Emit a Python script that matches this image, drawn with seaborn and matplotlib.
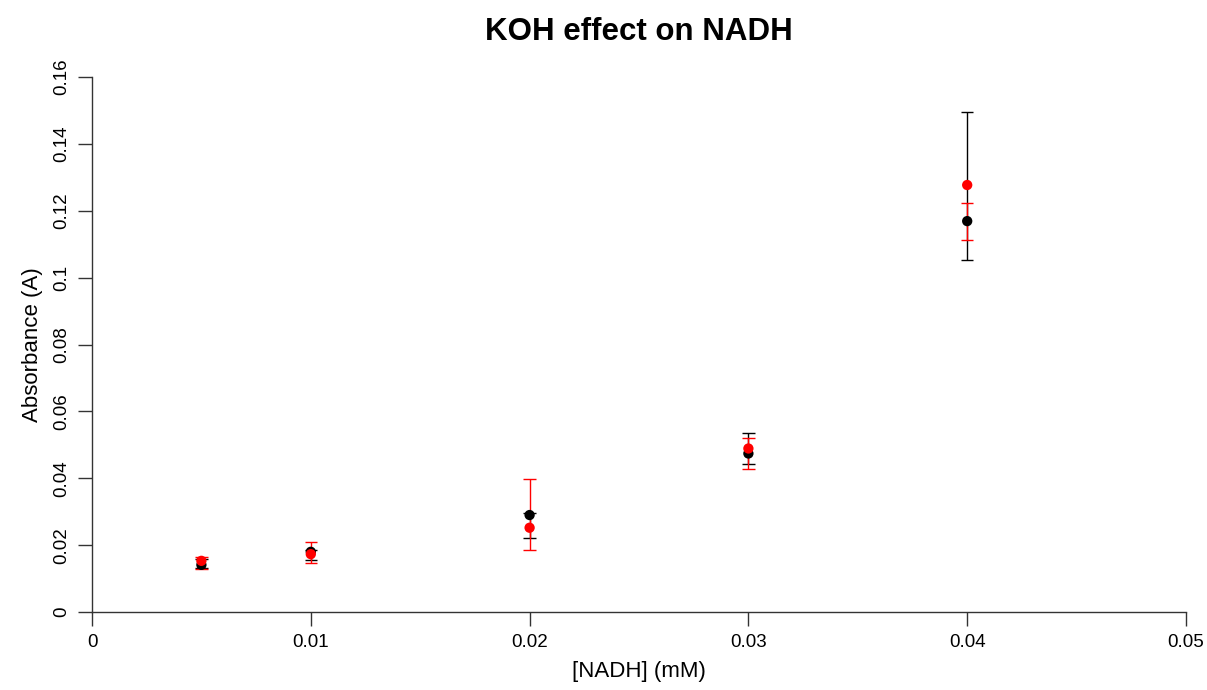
import matplotlib
matplotlib.use("Agg")
import matplotlib.pyplot as plt
import seaborn as sns
import pandas as pd
import numpy as np

# Data
conc = [0.005, 0.01, 0.02, 0.03, 0.04]
black_mean = [0.0141, 0.0180, 0.0290, 0.0474, 0.1169]
black_low = [0.0133, 0.0156, 0.0222, 0.0442, 0.1053]
black_high = [0.0160, 0.0185, 0.0295, 0.0534, 0.1496]
red_mean = [0.0153, 0.0173, 0.0252, 0.0489, 0.1277]
red_low = [0.0129, 0.0148, 0.0185, 0.0427, 0.1114]
red_high = [0.0163, 0.0208, 0.0397, 0.0519, 0.1222]
series_names = ["black", "red"]
series_colors = {"black": "#000000", "red": "#ff0000"}

x_ticks = [0, 0.01, 0.02, 0.03, 0.04, 0.05]
x_labels = ["0", "0.01", "0.02", "0.03", "0.04", "0.05"]
y_ticks = [0, 0.02, 0.04, 0.06, 0.08, 0.1, 0.12, 0.14, 0.16]
y_labels = ["0", "0.02", "0.04", "0.06", "0.08", "0.1", "0.12", "0.14", "0.16"]

df = pd.DataFrame({
    "conc": conc * 2,
    "abs": black_mean + red_mean,
    "low": black_low + red_low,
    "high": black_high + red_high,
    "series": ["black"] * len(conc) + ["red"] * len(conc),
})

sns.set_theme(style="white")
plt.rcParams["font.family"] = ["Liberation Sans", "DejaVu Sans"]
plt.rcParams["text.color"] = "black"
plt.rcParams["axes.labelcolor"] = "black"
plt.rcParams["xtick.color"] = "black"
plt.rcParams["ytick.color"] = "black"

fig = plt.figure(figsize=(12.07, 6.9), dpi=100)
ax = fig.add_axes([92 / 1207, 1 - 612 / 690, (1186 - 92) / 1207, (612 - 77) / 690])

cap = 0.00028
for s in series_names:
    d = df[df.series == s]
    ax.vlines(d["conc"], d["low"], d["high"], color=series_colors[s], lw=1.0, zorder=2)
    ax.hlines(d["low"], d["conc"] - cap, d["conc"] + cap, color=series_colors[s], lw=1.0, zorder=2)
    ax.hlines(d["high"], d["conc"] - cap, d["conc"] + cap, color=series_colors[s], lw=1.0, zorder=2)

sns.scatterplot(data=df, x="conc", y="abs", hue="series", palette=series_colors,
                s=55, edgecolor="none", legend=False, ax=ax, zorder=3)

ax.set_xlim(0, 0.05)
ax.set_ylim(0, 0.16)
ax.set_xticks(x_ticks)
ax.set_xticklabels(x_labels)
ax.set_yticks(y_ticks)
ax.set_yticklabels(y_labels, rotation=90, va="center")
ax.tick_params(axis="both", which="major", direction="out", length=10, width=1,
               color="#333333", labelsize=13.5, pad=6, left=True, bottom=True,
               labelcolor="black")
for side in ["top", "right"]:
    ax.spines[side].set_visible(False)
for side in ["left", "bottom"]:
    ax.spines[side].set_color("#333333")
    ax.spines[side].set_linewidth(1)

ax.set_xlabel("[NADH] (mM)", fontsize=16, labelpad=7)
ax.set_ylabel("Absorbance (A)", fontsize=16, labelpad=7)
fig.text(639 / 1207, 1 - 32 / 690, "KOH effect on NADH", fontsize=22.5,
         fontweight="bold", ha="center", va="center", color="black")

fig.savefig("out.png", dpi=100, facecolor="white")
